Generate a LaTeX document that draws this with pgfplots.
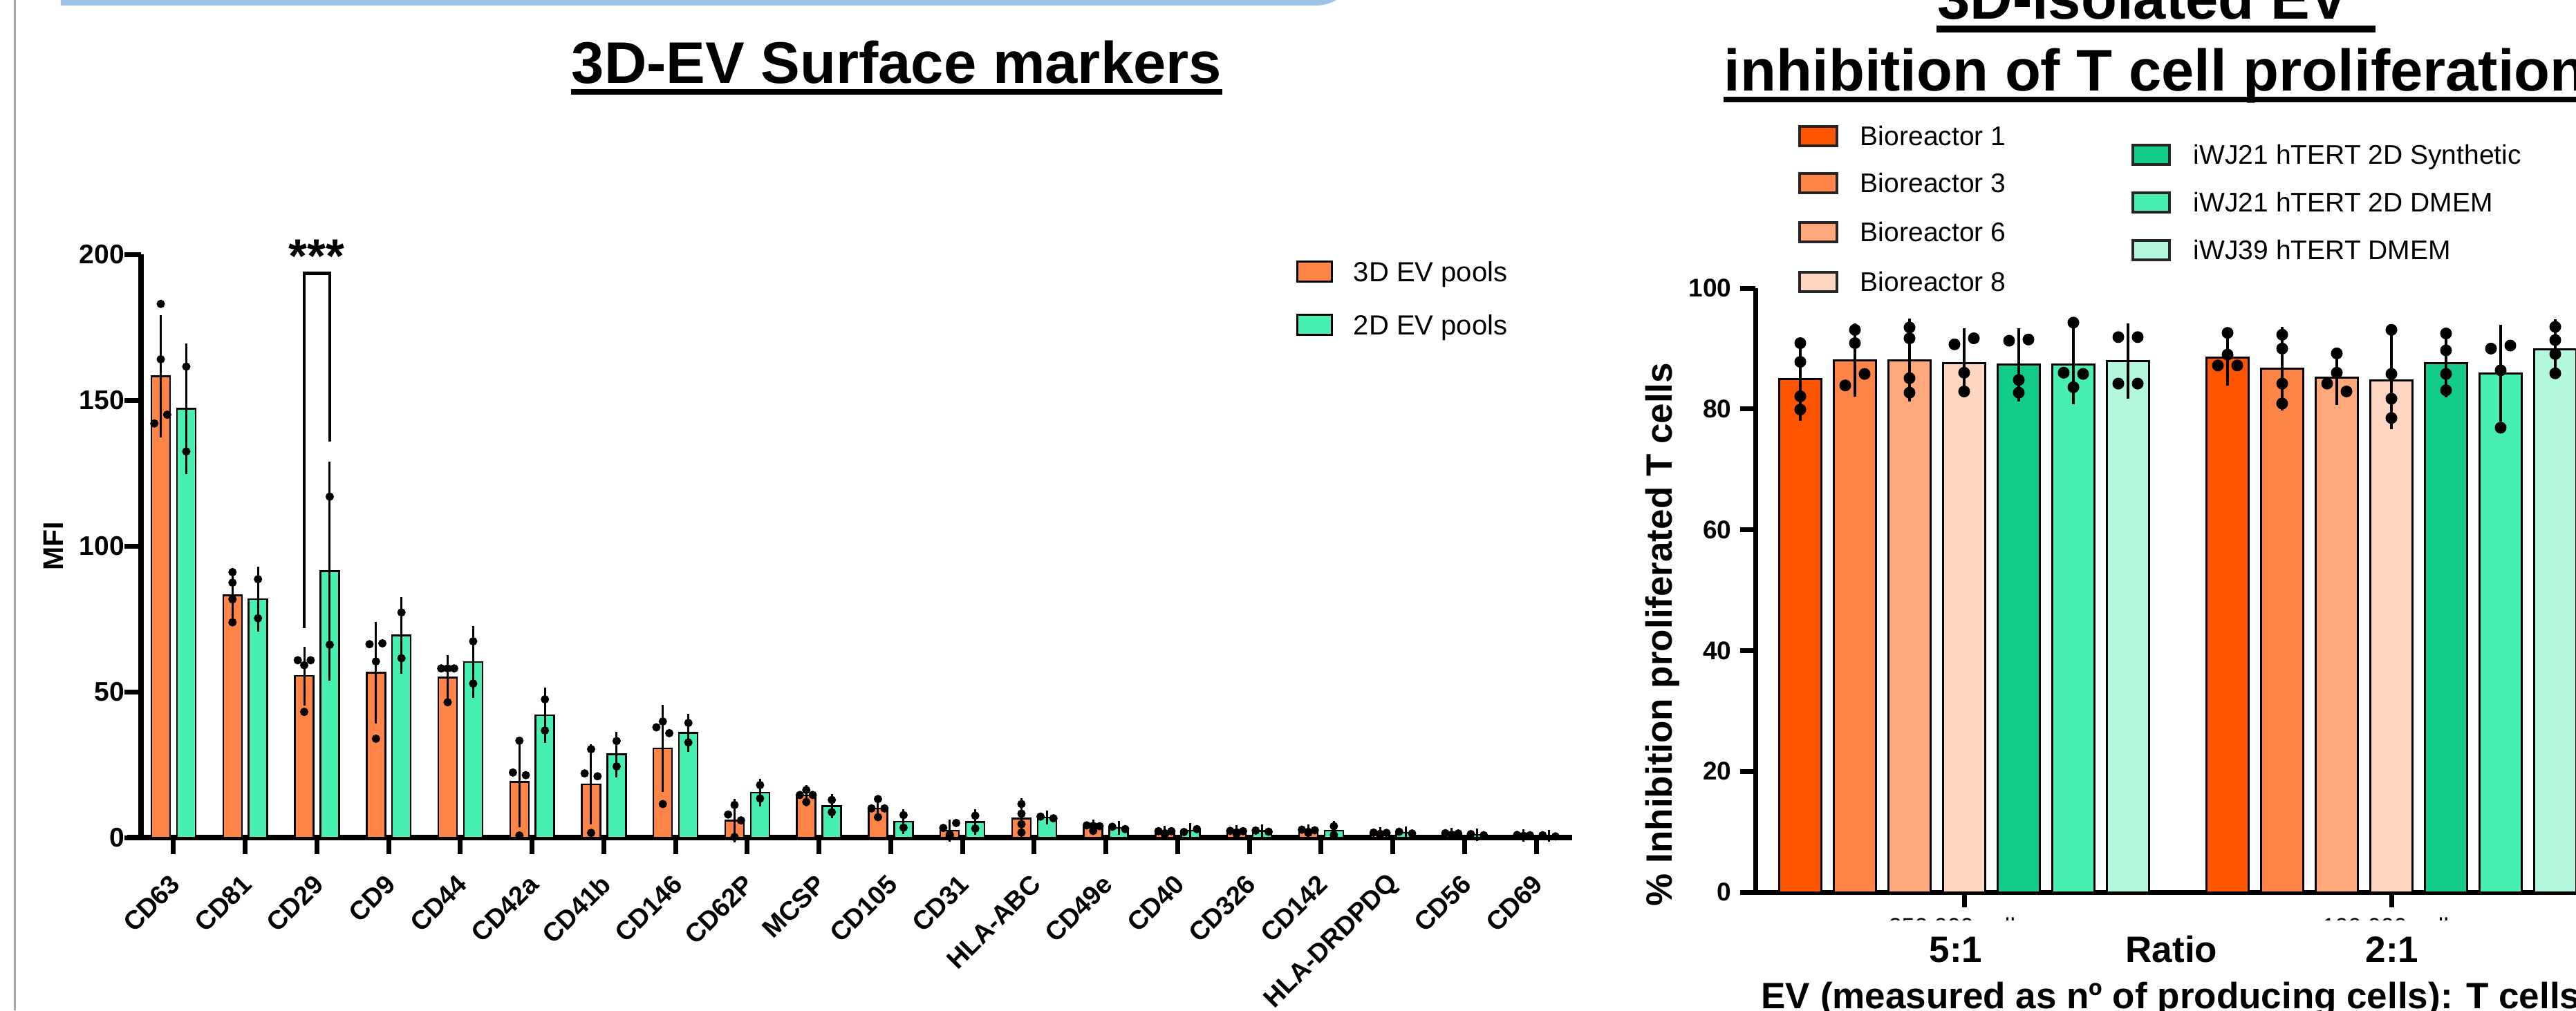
\documentclass[border=0pt]{standalone}
\usepackage{fontspec}
\setmainfont{Liberation Sans}
\usepackage{pgfplots}
\usepackage{pgfplotstable}
\pgfplotsset{compat=1.18}
\usetikzlibrary{calc}

\definecolor{orng}{HTML}{FF8447}
\definecolor{grn}{HTML}{47EFB1}
\definecolor{bA}{HTML}{FF5500}
\definecolor{bB}{HTML}{FF8447}
\definecolor{bC}{HTML}{FFA87C}
\definecolor{bD}{HTML}{FFD6C2}
\definecolor{gA}{HTML}{14CC8A}
\definecolor{gB}{HTML}{47EFB1}
\definecolor{gC}{HTML}{B3F7DD}
\definecolor{band}{HTML}{9DC3E6}

% left chart: mean and SD per marker
\pgfplotstableread{
x y e
0 158.2 19.0
1 83.1 7.5
2 55.4 8.2
3 56.5 15.5
4 54.9 5.7
5 19.1 13.7
6 18.3 11.9
7 30.6 13.1
8 5.8 5.5
9 14.4 1.8
10 10.0 2.5
11 2.4 1.9
12 6.5 5.0
13 3.6 0.6
14 1.7 0.5
15 1.9 0.4
16 2.2 0.5
17 1.4 0.3
18 1.2 0.3
19 0.7 0.2
}\orangeTab

\pgfplotstableread{
x y e
0 147.0 20.5
1 81.8 9.3
2 91.4 35.6
3 69.3 11.2
4 60.2 10.4
5 42.0 7.6
6 28.5 5.9
7 35.9 4.7
8 15.4 2.9
9 10.8 2.3
10 5.5 2.4
11 5.3 2.5
12 6.9 0.4
13 3.3 0.5
14 2.4 0.6
15 2.2 0.4
16 2.4 1.5
17 1.7 0.3
18 1.0 0.2
19 0.6 0.2
}\greenTab

\pgfplotstableread{
x dx y
0 0 183
0 0 164
0 0.09 145
0 -0.09 142
1 0 91
1 0 87.4
1 0 81.7
1 0 73.8
2 -0.09 60.8
2 0.09 60.8
2 0 59.1
2 0 43.1
3 -0.09 66.3
3 0.09 66.6
3 0 60.4
3 0 33.9
4 -0.09 58
4 0 58
4 0.09 58
4 0 46.4
5 0 33.2
5 -0.09 22.3
5 0.09 21.4
5 0 0.7
6 0 30.3
6 -0.09 22
6 0.09 21
6 0 1.6
7 -0.09 37.8
7 0 39.8
7 0.09 35.8
7 0 11.5
8 0 11.2
8 -0.09 7.9
8 0.09 5.9
8 0 0.2
9 0 16.3
9 -0.09 14.6
9 0.09 14.6
9 0 12.2
10 0 13.2
10 -0.09 10
10 0.09 10
10 0 7
11 0.09 5.0
11 -0.09 3.3
11 0 1.0
11 0 0.3
12 0 11.5
12 0 8.2
12 0 4.6
12 0 1.7
13 -0.09 4.2
13 0 4.0
13 0.09 3.9
13 0 2.3
14 -0.09 2.2
14 0.09 2.2
14 0 1.5
14 0 1.0
15 -0.09 2.3
15 0.09 2.2
15 0 1.8
15 0 1.3
16 -0.09 2.7
16 0.09 2.5
16 0 2.0
16 0 1.6
17 -0.09 1.7
17 0.09 1.6
17 0 1.3
17 0 1.0
18 -0.09 1.5
18 0.09 1.4
18 0 1.0
18 0 0.9
19 -0.09 0.9
19 0.09 0.8
19 0 0.6
19 0 0.5
}\orangePts

\pgfplotstableread{
x dx y
0 0 161.5
0 0 132.4
1 0 88.6
1 0 75.2
2 0 116.9
2 0 66.1
3 0 77.2
3 0 61.5
4 0 67.3
4 0 52.8
5 0 47.4
5 0 36.7
6 0 33.1
6 0 24.4
7 0 39.3
7 0 32.6
8 0 18
8 0 13.4
9 0 12.9
9 0 8.7
10 0 7.7
10 0 3.4
11 0 7.5
11 0 3.1
12 -0.09 7.2
12 0.09 6.6
13 -0.09 3.7
13 0.09 2.9
14 -0.09 1.9
14 0.09 2.9
15 -0.09 2.4
15 0.09 2.0
16 0 3.9
16 0 0.9
17 -0.09 2.0
17 0.09 1.4
18 -0.09 1.2
18 0.09 0.8
19 -0.09 0.8
19 0.09 0.4
}\greenPts

% right chart bars: x in picture pixels, mean, SD
\pgfplotstableread{
x y e
2604 84.9 5.1
3222 88.5 2.9
}\rA
\pgfplotstableread{
x y e
2683 88.1 4.4
3301 86.7 5.2
}\rB
\pgfplotstableread{
x y e
2762 88.1 5.1
3380 85.2 2.8
}\rC
\pgfplotstableread{
x y e
2841 87.6 4.0
3459 84.7 6.3
}\rD
\pgfplotstableread{
x y e
2920 87.3 4.4
3538 87.6 4.0
}\rE
\pgfplotstableread{
x y e
2999 87.3 4.8
3617 85.9 6.3
}\rF
\pgfplotstableread{
x y e
3078 87.9 4.5
3696 89.9 3.2
}\rG

% right chart: individual replicates
\pgfplotstableread{
x y
2604 90.9
2604 87.8
2604 82.1
2604 79.9
3222 92.6
3222 89.0
3208 87.2
3236 87.2
2683 93.1
2683 90.9
2697 85.8
2669 83.9
3301 92.3
3301 90.0
3301 84.2
3301 80.9
2762 93.5
2762 91.7
2762 85.1
2762 82.7
3380 89.2
3380 86.0
3366 84.2
3394 82.9
2827 90.7
2855 91.7
2841 86.0
2841 82.9
3459 93.1
3459 85.8
3459 81.7
3459 78.5
2906 91.3
2934 91.5
2920 84.8
2920 82.7
3538 92.5
3538 89.7
3538 85.8
3538 83.1
2999 94.3
2985 86.0
3013 85.8
2999 83.6
3603 90.0
3631 90.5
3617 86.4
3617 76.9
3064 91.9
3092 91.9
3064 84.2
3092 84.2
3696 93.6
3696 91.4
3696 89.1
3696 85.9
}\rightPts

\pgfplotsset{
  lbar/.style={ybar, bar width=5.4pt, bar shift=0pt, draw=black, line width=0.5pt, fill=#1,
    error bars/.cd, y dir=both, y explicit,
    error bar style={line width=0.6pt, black},
    error mark options={mark size=1.6pt, line width=0.6pt, black}},
  rbar/.style={ybar, bar width=12.2pt, bar shift=0pt, draw=black, line width=0.6pt, fill=#1,
    error bars/.cd, y dir=both, y explicit,
    error bar style={line width=0.8pt, black},
    error mark options={mark size=3pt, line width=0.8pt, black}},
}

\begin{document}
\begin{tikzpicture}
\useasboundingbox (0pt,0pt) rectangle (745.2pt,292.4pt);
\clip (0pt,0pt) rectangle (745.2pt,292.4pt);
%
% left chart
\begin{axis}[
  at={(40.8pt,50pt)}, anchor=south west,
  scale only axis, width=414pt, height=168.8pt,
  xmin=-0.453, xmax=19.5, ymin=0, ymax=200,
  axis x line*=bottom, axis y line*=left,
  axis line style={line width=1.5pt},
  xtick={0,...,19},
  xticklabels={CD63,CD81,CD29,CD9,CD44,CD42a,CD41b,CD146,CD62P,MCSP,CD105,CD31,HLA-ABC,CD49e,CD40,CD326,CD142,HLA-DRDPDQ,CD56,CD69},
  ytick={0,50,...,200},
  tick align=outside, major tick length=4.7pt,
  tick style={line width=1.4pt, black},
  /pgf/number format/assume math mode=true,
  yticklabel style={xshift=3.4pt, font=\bfseries\fontsize{7.8}{8}\selectfont},
  xticklabel style={xshift=3pt, yshift=-5pt, rotate=45, anchor=east, font=\bfseries\fontsize{7.6}{8}\selectfont},
  clip=false,
]
\addplot[lbar=orng] table[x expr=\thisrow{x}-0.178, y=y, y error=e] {\orangeTab};
\addplot[lbar=grn] table[x expr=\thisrow{x}+0.178, y=y, y error=e] {\greenTab};
\addplot[only marks, mark=*, mark size=1pt, black] table[x expr=\thisrow{x}-0.178+\thisrow{dx}, y=y] {\orangePts};
\addplot[only marks, mark=*, mark size=1pt, black] table[x expr=\thisrow{x}+0.178+\thisrow{dx}, y=y] {\greenPts};
\draw[line width=1.5pt] (axis cs:-0.646,0) -- (axis cs:-0.4,0);
\draw[line width=0.9pt] (axis cs:1.822,71.9) |- (axis cs:2.178,193.5) -- (axis cs:2.178,135.9);
\end{axis}
%
% right chart
\begin{axis}[
  at={(507.8pt,34.2pt)}, anchor=south west,
  scale only axis, width=244.4pt, height=174.8pt,
  xmin=2539, xmax=3761, ymin=0, ymax=100,
  axis x line*=bottom, axis y line*=left,
  axis line style={line width=1.4pt},
  xtick={2841,3459}, xticklabels={},
  ytick={0,20,...,100},
  tick align=outside, major tick length=4.4pt,
  tick style={line width=1.4pt, black},
  /pgf/number format/assume math mode=true,
  yticklabel style={xshift=1pt, font=\bfseries\fontsize{7.4}{8}\selectfont},
  clip=false,
]
\addplot[rbar=bA] table[x=x, y=y, y error=e] {\rA};
\addplot[rbar=bB] table[x=x, y=y, y error=e] {\rB};
\addplot[rbar=bC] table[x=x, y=y, y error=e] {\rC};
\addplot[rbar=bD] table[x=x, y=y, y error=e] {\rD};
\addplot[rbar=gA] table[x=x, y=y, y error=e] {\rE};
\addplot[rbar=gB] table[x=x, y=y, y error=e] {\rF};
\addplot[rbar=gC] table[x=x, y=y, y error=e] {\rG};
\addplot[only marks, mark=*, mark size=1.5pt, black] table[x=x, y=y] {\rightPts};
\end{axis}
%
% texts and decorations, in picture pixels (y downwards)
\begin{scope}[x=0.2pt, y=-0.2pt, shift={(0pt,292.4pt)}]
  \draw[color=black!35, line width=0.6pt] (22,0) -- (22,1462);
  \fill[band] (88,-200) -- (88,8) [rounded corners=12pt] -- (1963,8) [sharp corners] -- (1963,-200) -- cycle;
  %
  \node[anchor=base, inner sep=0pt, font=\bfseries\fontsize{17}{17}\selectfont] (lt) at (1297,121) {3D-EV Surface markers};
  \fill ($(lt.base west)+(0,8)$) rectangle ($(lt.base east)+(0,16)$);
  %
  \node[rotate=90, font=\bfseries\fontsize{8.2}{8}\selectfont] at (77,790) {MFI};
  \node[anchor=base, inner sep=0pt, font=\bfseries\fontsize{13.8}{14}\selectfont] at (458,395) {***};
  %
  \filldraw[fill=orng, draw=black, line width=0.6pt] (1877,379) rectangle (1927,408);
  \filldraw[fill=grn, draw=black, line width=0.6pt] (1877,456) rectangle (1927,485);
  \node[anchor=base west, inner sep=0pt, font=\fontsize{8}{8}\selectfont] at (1957,408) {3D EV pools};
  \node[anchor=base west, inner sep=0pt, font=\fontsize{8}{8}\selectfont] at (1957,485) {2D EV pools};
  %
  \node[anchor=base, inner sep=0pt, font=\bfseries\fontsize{17}{17}\selectfont] (r1) at (3100,28) {3D-isolated EV};
  \fill ($(r1.base west)+(0,9)$) rectangle ($(r1.base east)+(37,19)$);
  \node[anchor=base west, inner sep=0pt, font=\bfseries\fontsize{17}{17}\selectfont] (r2) at (2493,132) {inhibition of T cell proliferation};
  \fill ($(r2.base west)+(0,8)$) rectangle ($(r2.base east)+(0,16)$);
  %
  \foreach \col/\txt/\yy in {bA/Bioreactor 1/211, bB/Bioreactor 3/279, bC/Bioreactor 6/350, bD/Bioreactor 8/422}{
    \filldraw[fill=\col, draw=black!85, line width=0.7pt] (2603,\yy-28) rectangle (2657,\yy);
    \node[anchor=base west, inner sep=0pt, font=\fontsize{7.8}{8}\selectfont] at (2690,\yy) {\txt};
  }
  \foreach \col/\txt/\yy in {gA/iWJ21 hTERT 2D Synthetic/238, gB/iWJ21 hTERT 2D DMEM/307, gC/iWJ39 hTERT DMEM/376}{
    \filldraw[fill=\col, draw=black!85, line width=0.7pt] (3085,\yy-28) rectangle (3138,\yy);
    \node[anchor=base west, inner sep=0pt, font=\fontsize{7.8}{8}\selectfont] at (3172,\yy) {\txt};
  }
  %
  \node[rotate=90, font=\bfseries\fontsize{10.6}{11}\selectfont] at (2405,918) {\% Inhibition proliferated T cells};
  \node[anchor=base, inner sep=0pt, font=\fontsize{6.8}{7}\selectfont] at (2832,1353) {250 000 cells};
  \node[anchor=base, inner sep=0pt, font=\fontsize{6.8}{7}\selectfont] at (3459,1353) {100 000 cells};
  \fill[white] (2600,1332) rectangle (3700,1365);
  \node[anchor=base, inner sep=0pt, font=\bfseries\fontsize{10.6}{11}\selectfont] at (2829,1393) {5:1};
  \node[anchor=base, inner sep=0pt, font=\bfseries\fontsize{10.6}{11}\selectfont] at (3141,1393) {Ratio};
  \node[anchor=base, inner sep=0pt, font=\bfseries\fontsize{10.6}{11}\selectfont] at (3460,1393) {2:1};
  \node[anchor=base, inner sep=0pt, font=\bfseries\fontsize{10.6}{11}\selectfont] at (3140,1460) {EV (measured as nº of producing cells): T cells};
\end{scope}
\end{tikzpicture}
\end{document}
